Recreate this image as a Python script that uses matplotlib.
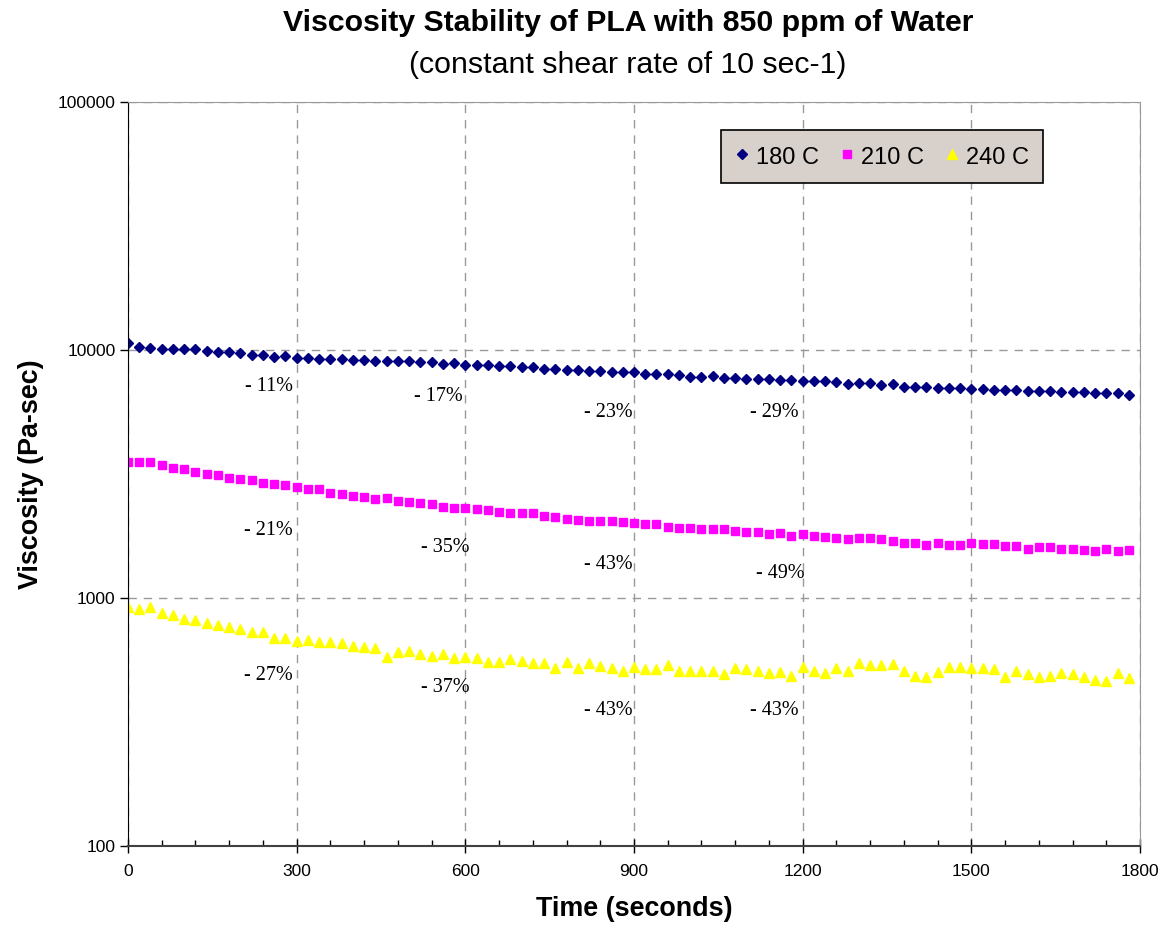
import numpy as np
import matplotlib
matplotlib.use("Agg")
import matplotlib.pyplot as plt
from matplotlib.ticker import FixedLocator, MultipleLocator, FuncFormatter, NullLocator

# time axis: one reading every 20 s
time_s = list(range(0, 1800, 20))

visc_180 = [
    10640, 10310, 10210, 10070, 10070, 10070, 10070, 9935, 9790, 9790,
    9700, 9546, 9546, 9397, 9460, 9310, 9310, 9200, 9200, 9200,
    9113, 9113, 9003, 9003, 9003, 9003, 8920, 8920, 8780, 8840,
    8724, 8724, 8724, 8620, 8620, 8515, 8515, 8404, 8350, 8305,
    8305, 8205, 8205, 8130, 8130, 8130, 8000, 8000, 8000, 7930,
    7805, 7805, 7870, 7733, 7733, 7640, 7640, 7640, 7570, 7570,
    7500, 7500, 7500, 7410, 7290, 7340, 7340, 7225, 7270, 7110,
    7110, 7110, 7045, 7045, 7045, 6960, 6960, 6897, 6897, 6897,
    6833, 6833, 6833, 6750, 6750, 6750, 6690, 6690, 6690, 6590,
]

visc_210 = [
    3546, 3526, 3526, 3429, 3354, 3313, 3231, 3163, 3125, 3056,
    3020, 2984, 2918, 2883, 2848, 2811, 2752, 2752, 2644, 2620,
    2586, 2562, 2508, 2538, 2468, 2446, 2416, 2387, 2328, 2313,
    2307, 2279, 2258, 2222, 2208, 2202, 2196, 2136, 2116, 2083,
    2064, 2050, 2050, 2044, 2020, 2007, 1983, 1983, 1939, 1910,
    1910, 1893, 1893, 1893, 1868, 1846, 1846, 1807, 1824, 1783,
    1807, 1783, 1757, 1741, 1725, 1741, 1741, 1725, 1698, 1662,
    1662, 1640, 1662, 1640, 1640, 1662, 1647, 1647, 1621, 1621,
    1581, 1601, 1601, 1581, 1581, 1562, 1543, 1581, 1547, 1562,
]

visc_240 = [
    922, 903, 917, 872, 854, 823, 815, 795, 778, 766,
    748, 731, 731, 692, 692, 673, 677, 666, 666, 660,
    642, 636, 627, 580, 607, 613, 593, 585, 593, 574,
    580, 571, 553, 553, 566, 559, 545, 545, 522, 553,
    522, 545, 532, 522, 509, 528, 516, 516, 535, 509,
    509, 509, 509, 492, 521, 516, 509, 497, 503, 486,
    528, 509, 497, 521, 509, 548, 535, 535, 542, 509,
    486, 479, 503, 528, 528, 522, 522, 516, 479, 509,
    492, 479, 486, 497, 492, 479, 468, 463, 497, 474,
]

series_labels = ["180 C", "210 C", "240 C"]

# percent drop labels (text, time, viscosity)
drop_text = ["- 11%", "- 17%", "- 23%", "- 29%",
             "- 21%", "- 35%", "- 43%", "- 49%",
             "- 27%", "- 37%", "- 43%", "- 43%"]
drop_time = [293, 596, 898, 1192,
             293, 608, 898, 1204,
             293, 608, 898, 1192]
drop_visc = [7094, 6464, 5623, 5572,
             1880, 1591, 1359, 1250,
             489, 434, 353, 353]

fig = plt.figure(figsize=(11.65, 9.32), dpi=100)
ax = fig.add_axes([128 / 1165, 1 - 846 / 932, 1012 / 1165, 744 / 932])

ax.plot(time_s, visc_180, linestyle="none", marker="D", ms=5.5,
        color="#000080", label=series_labels[0])
ax.plot(time_s, visc_210, linestyle="none", marker="s", ms=5.5,
        color="#FF00FF", label=series_labels[1])
ax.plot(time_s, visc_240, linestyle="none", marker="^", ms=6.5,
        color="#FFFF00", label=series_labels[2])

for txt, t, v in zip(drop_text, drop_time, drop_visc):
    ax.text(t, v, txt, ha="right", va="center", fontsize=14.5,
            family="Liberation Serif", color="black")

ax.set_yscale("log")
ax.set_xlim(0, 1800)
ax.set_ylim(100, 100000)

ax.xaxis.set_major_locator(MultipleLocator(300))
ax.xaxis.set_minor_locator(MultipleLocator(60))
ax.yaxis.set_major_locator(FixedLocator([100, 1000, 10000, 100000]))
ax.yaxis.set_minor_locator(NullLocator())
ax.yaxis.set_major_formatter(FuncFormatter(lambda v, p: f"{int(round(v))}"))

ax.tick_params(axis="x", which="major", direction="inout", length=10,
               width=1, labelsize=12.5, pad=8)
ax.tick_params(axis="x", which="minor", direction="in", length=4, width=1)
ax.tick_params(axis="y", which="major", direction="out", length=6,
               width=1, labelsize=12.5, pad=3)

ax.grid(True, which="major", axis="both", color="#999999",
        linestyle=(0, (6, 5)), linewidth=1)
ax.set_axisbelow(True)

ax.spines["left"].set_color("black")
ax.spines["bottom"].set_color("#404040")
ax.spines["bottom"].set_linewidth(1.5)
ax.spines["top"].set_color("#999999")
ax.spines["right"].set_color("#999999")

ax.set_xlabel("Time (seconds)", fontsize=19.4, fontweight="bold",
              family="Liberation Sans", labelpad=12)
ax.set_ylabel("Viscosity (Pa-sec)", fontsize=19.4, fontweight="bold",
              family="Liberation Sans", labelpad=10)
for lab in ax.get_xticklabels() + ax.get_yticklabels():
    lab.set_family("Liberation Sans")

leg = ax.legend(loc="upper right", bbox_to_anchor=(0.904, 0.962), ncol=3,
                frameon=True, fancybox=False, borderaxespad=0,
                handletextpad=0.34, columnspacing=0.93, handlelength=0.51,
                handleheight=1.12, borderpad=0.6,
                prop={"family": "Liberation Sans", "size": 17})
leg.get_frame().set_facecolor("#D8D0CA")
leg.get_frame().set_edgecolor("black")
leg.get_frame().set_linewidth(1.2)
leg.get_frame().set_alpha(1)

fig.text(628 / 1165, 1 - 23 / 932, "Viscosity Stability of PLA with 850 ppm of Water",
         ha="center", va="center", fontsize=21.8, fontweight="bold",
         family="Liberation Sans")
fig.text(628 / 1165, 1 - 65 / 932, "(constant shear rate of 10 sec-1)",
         ha="center", va="center", fontsize=21.8, family="Liberation Sans")

fig.savefig("out.png", dpi=100)
